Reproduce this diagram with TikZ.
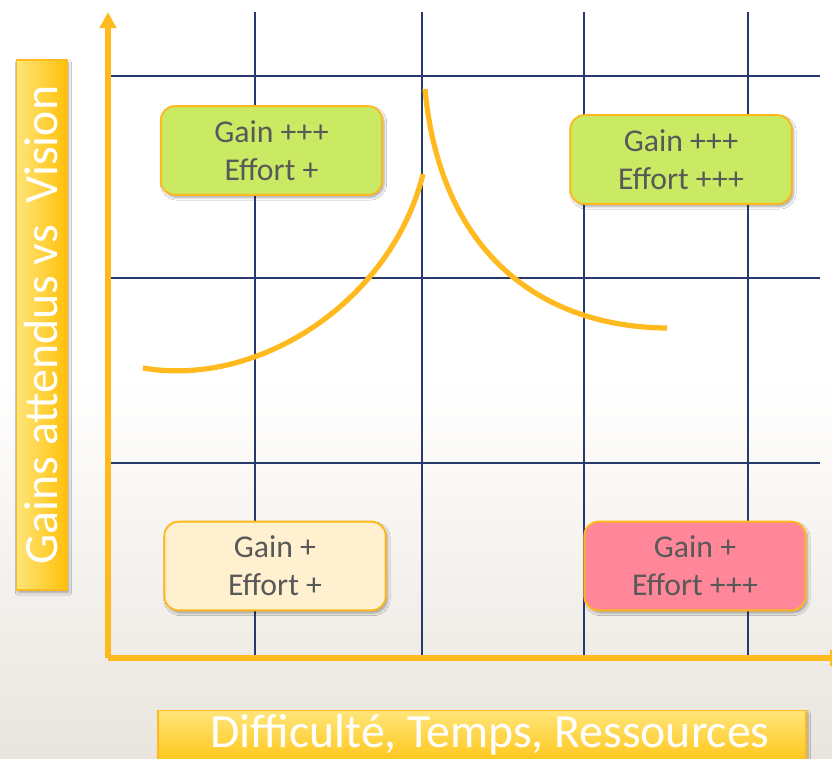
\documentclass[tikz,border=0pt]{standalone}
\usepackage{fontspec}
\setmainfont{Carlito}
\usetikzlibrary{arrows.meta,shadows.blur}
\definecolor{gridblue}{HTML}{263A6B}
\definecolor{axisgold}{HTML}{FFBA1F}
\definecolor{boxborder}{HTML}{FFB81C}
\definecolor{greenfill}{HTML}{CBEA63}
\definecolor{creamfill}{HTML}{FFF0CF}
\definecolor{pinkfill}{HTML}{FF8799}
\definecolor{txtgray}{HTML}{595959}
\definecolor{bgbeige}{HTML}{E9E5DE}
\definecolor{lblight}{HTML}{FFE57A}
\definecolor{lbdark}{HTML}{FFC10A}
\tikzset{
  gridline/.style={draw=gridblue, line width=1.5pt},
  axisline/.style={draw=axisgold, line width=3.9pt, -{Triangle[width=12pt,length=12pt]}},
  curveline/.style={draw=axisgold, line width=3.9pt},
  softshadow/.style={blur shadow={shadow xshift=1.5pt, shadow yshift=-2pt, shadow blur steps=6, shadow opacity=35}},
  quadbox/.style={draw=boxborder, line width=1.4pt, rounded corners=10.5pt,
    minimum width=166pt, minimum height=66.5pt, text=txtgray, align=center,
    font=\fontsize{23.8}{28.5}\selectfont, softshadow},
  axislabel/.style={draw=axisgold, line width=0.8pt, softshadow, inner sep=0pt},
  axistext/.style={text=white, font=\fontsize{35.8}{40}\selectfont, inner sep=1pt}
}
\begin{document}
\begin{tikzpicture}[x=0.75pt,y=-0.75pt]
\useasboundingbox (0,0) rectangle (832,758);
% background
\fill[white] (0,0) rectangle (832,380);
\shade[top color=white, bottom color=bgbeige] (0,379) rectangle (832,758);
% grid
\foreach \gx in {255,421.5,584,748} \draw[gridline] (\gx,12) -- (\gx,657);
\foreach \gy in {76,278,463} \draw[gridline] (108,\gy) -- (820,\gy);
% axes
\coordinate (O) at (108,658);
\coordinate (Ytip) at (108,12);
\coordinate (Xtip) at (846,658);
\draw[axisline] (O) -- (Ytip);
\draw[axisline] (O) -- (Xtip);
% curves
\coordinate (L0) at (143,368);
\coordinate (L1) at (423,174);
\coordinate (R0) at (425,89);
\coordinate (R1) at (667,328);
\draw[curveline] (L0) .. controls (260,388) and (392,300) .. (L1);
\draw[curveline] (R0) .. controls (440,252) and (540,327) .. (R1);
% quadrant boxes
\node[quadbox, fill=greenfill] (q1) at (271.5,150.5) {Gain +++\\Effort +};
\node[quadbox, fill=greenfill] (q2) at (681,159.5) {Gain +++\\Effort +++};
\node[quadbox, fill=creamfill] (q3) at (275,566) {Gain +\\Effort +};
\node[quadbox, fill=pinkfill] (q4) at (695,566) {Gain +\\Effort +++};
% axis labels
\node[axislabel, minimum width=38.2pt, minimum height=397.5pt,
  left color=lblight, right color=lbdark] (ylab) at (41.5,325) {};
\node[axistext, rotate=90] (ytxt) at (41.5,325) {Gains attendus vs\ \ Vision};
\node[axislabel, minimum width=486pt, minimum height=45pt,
  top color=lblight, bottom color=lbdark, anchor=north] (xlab) at (482,710) {};
\node[axistext] (xtxt) at (490,735) {Difficulté, Temps, Ressources};
\end{tikzpicture}
\end{document}
